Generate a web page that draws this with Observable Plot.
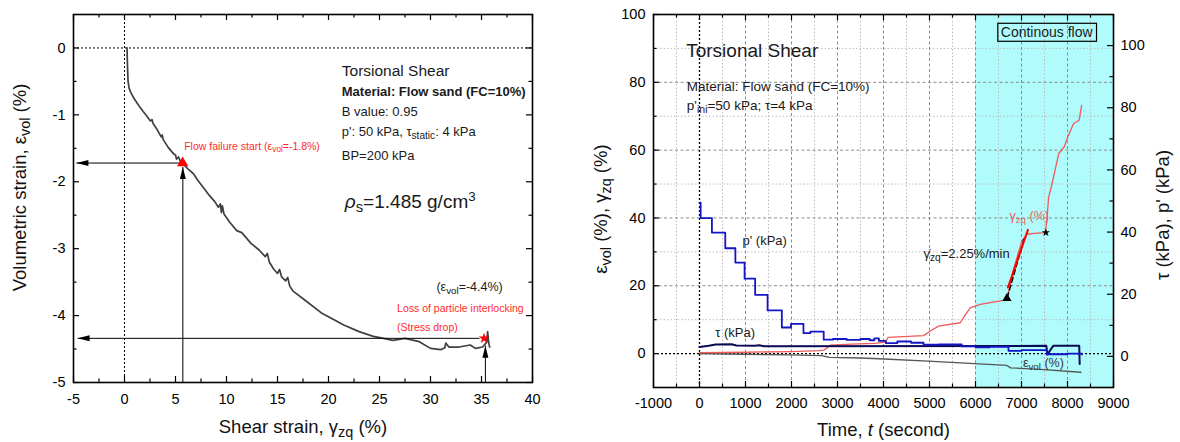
<!DOCTYPE html>
<html><head><meta charset="utf-8">
<script src="https://cdn.jsdelivr.net/npm/d3@7"></script>
<script src="https://cdn.jsdelivr.net/npm/@observablehq/plot@0.6"></script>
<style>
body{margin:0;background:#fff;}
#wrap{position:relative;width:1180px;height:442px;overflow:hidden;background:#fff;}
#left{position:absolute;left:0;top:0;}
#right{position:absolute;left:590px;top:0;}
</style></head>
<body><div id="wrap"><div id="left"></div><div id="right"></div></div>
<script>
const FONT = "'Liberation Sans', Arial, Helvetica, sans-serif";

// ---------------- LEFT PANEL DATA ----------------
const shearStrain = [0.25,0.27,0.3,0.35,0.45,0.6,0.95,1.4,1.83,2.2,2.54,2.7,2.8,3.2,3.6,3.7,3.8,4.3,4.8,5.0,5.1,5.3,5.5,5.8,6.3,6.76,7.2,7.8,8.3,8.87,9.2,9.4,9.5,9.6,9.75,10.3,11,11.5,12.4,13.2,13.8,14.0,14.2,14.6,15.0,15.2,15.4,15.8,16.0,16.2,16.5,17.7,19.4,21.5,23,24.4,25.4,26.3,27.5,28.9,30,31,31.4,31.5,31.8,32.8,33.9,34.4,35.1,35.5,35.6,35.7,35.8];
const volStrain = [0,-0.15,-0.3,-0.5,-0.6,-0.66,-0.76,-0.86,-0.95,-1.02,-1.09,-1.07,-1.13,-1.22,-1.33,-1.3,-1.37,-1.49,-1.58,-1.6,-1.66,-1.63,-1.7,-1.74,-1.82,-1.88,-1.98,-2.1,-2.2,-2.3,-2.38,-2.33,-2.46,-2.36,-2.48,-2.6,-2.73,-2.76,-2.92,-3.02,-3.12,-3.07,-3.2,-3.3,-3.37,-3.31,-3.42,-3.48,-3.43,-3.56,-3.63,-3.77,-3.97,-4.14,-4.24,-4.31,-4.34,-4.37,-4.34,-4.39,-4.49,-4.51,-4.48,-4.41,-4.47,-4.47,-4.44,-4.49,-4.47,-4.4,-4.24,-4.4,-4.47];
const flowFailure = {x: 5.7, y: -1.72};
const interlockLoss = {x: 35.25, y: -4.34};
const leftXTicks = [-5,0,5,10,15,20,25,30,35,40];
const leftXMinor = [-2.5,2.5,7.5,12.5,17.5,22.5,27.5,32.5,37.5];
const leftYTicks = [-5,-4,-3,-2,-1,0];
const leftYMinor = [-4.5,-3.5,-2.5,-1.5,-0.5];

// ---------------- RIGHT PANEL DATA ----------------
const timeP  = [0,25,270,560,780,980,1210,1480,1790,1990,2260,2410,2700,2900,3200,3500,3700,3800,3900,4050,4300,4600,4870,5200,5700,6000,6300,6717,7000,7552,8000,8313];
const pPrime = [49.5,44.5,39.8,34.8,30.2,25,19.8,14.8,9.3,10.5,7.5,8.0,5.4,5.6,5.3,5.6,5.2,5.8,5.0,4.3,4.8,4.4,3.8,3.9,3.2,2.9,3.1,1.8,2.0,0.7,0.9,0.6];
const timeTau = [0,200,350,700,800,1200,1300,1400,7540,7560,7690,8255,8265];
const tau     = [3.0,3.4,3.8,3.9,3.5,3.4,3.6,3.3,3.4,0.6,3.4,3.4,-2.4];
const timeGamma = [0,1000,2000,2600,2700,2850,3300,3800,4050,4100,4870,5000,5196,5667,5739,5884,6102,6319,6609,6683,6755,6826,6900,7009,7117,7335,7515,7552,7587,7649,7810,7930,8010,8131,8252,8308];
const gammaZq   = [0.3,0.4,0.6,0.9,1.0,2.5,2.8,3.0,3.4,4.8,5.3,6.5,8.1,9.1,10.6,13.5,14.5,15.0,15.7,16.2,20.4,24.9,28.3,33.2,35.2,35.5,35.7,39.1,45.9,49.2,59,61,64,67.8,68.8,73.2];
const timeEvol = [0,1000,2000,2660,2821,3500,4028,5074,5879,6683,6763,7487,8292];
const epsVol   = [0,-0.2,-0.4,-0.6,-1.1,-1.3,-1.6,-2.3,-2.9,-3.5,-4.2,-4.7,-5.5];
const flowStartTime = 6000;
const triangleMark = {t: 6683, v: 16.3};
const starMark = {t: 7530, v: 35.7};
const fitRed = [{t: 6705, v: 19.5}, {t: 7140, v: 36.5}];
const fitDashed = [{t: 6690, v: 16.5}, {t: 7060, v: 34.0}];
const timeTicks = [-1000,0,1000,2000,3000,4000,5000,6000,7000,8000,9000];
const timeMinor = [-500,500,1500,2500,3500,4500,5500,6500,7500,8500];
const leftAxisTicks = [0,20,40,60,80,100];
const leftAxisMinor = [10,30,50,70,90];
const rightAxisTicks = [0,20,40,60,80,100];
const rightAxisMinor = [10,30,50,70,90];
const LDOM = [-10, 100], RDOM = [-10, 110];
const toLeft = k => LDOM[0] + (k - RDOM[0]) * (LDOM[1] - LDOM[0]) / (RDOM[1] - RDOM[0]);
const fromLeft = v => RDOM[0] + (v - LDOM[0]) * (RDOM[1] - RDOM[0]) / (LDOM[1] - LDOM[0]);

// ---------------- helpers ----------------
const arrowUp = {draw(c){ c.moveTo(0,0); c.lineTo(3,12); c.lineTo(-3,12); c.closePath(); }};
const arrowLeft = {draw(c){ c.moveTo(0,0); c.lineTo(12,3); c.lineTo(12,-3); c.closePath(); }};

function frameTicksX(vals, len, ph, extra = {}) {
  return [
    Plot.ruleX(vals, {insetTop: ph - len, stroke: "#000", strokeWidth: 1.2, ...extra}),
    Plot.ruleX(vals, {insetBottom: ph - len, stroke: "#000", strokeWidth: 1.2, ...extra})
  ];
}
function tickYLeft(vals, len, pw) { return Plot.ruleY(vals, {insetRight: pw - len, stroke: "#000", strokeWidth: 1.2}); }
function tickYRight(vals, len, pw) { return Plot.ruleY(vals, {insetLeft: pw - len, stroke: "#000", strokeWidth: 1.2}); }

function note(d, opts) {
  return Plot.text([d], {x: "x", y: "y", text: "text", textAnchor: "start", fill: "#1a1a1a", ...opts});
}
function title(s, opts) {
  return Plot.text([s], {textAnchor: "middle", lineAnchor: "middle", fontSize: 18.5, fill: "#111", ...opts});
}

const SVGNS = "http://www.w3.org/2000/svg";
function rich(el) {
  const s = el.textContent;
  if (!/[_^*]\{/.test(s)) return;
  el.textContent = "";
  const re = /([_^*])\{([^}]*)\}/g;
  let last = 0, m;
  const add = (txt, type) => {
    const ts = document.createElementNS(SVGNS, "tspan");
    ts.textContent = txt;
    if (type === "_") { ts.setAttribute("baseline-shift", "-0.28em"); ts.style.fontSize = "78%"; }
    else if (type === "^") { ts.setAttribute("baseline-shift", "0.55em"); ts.style.fontSize = "70%"; }
    else if (type === "*") { ts.style.fontStyle = "italic"; }
    el.appendChild(ts);
  };
  while ((m = re.exec(s))) {
    if (m.index > last) add(s.slice(last, m.index));
    add(m[2], m[1]);
    last = re.lastIndex;
  }
  if (last < s.length) add(s.slice(last));
}
function richify(svg) {
  svg.querySelectorAll("text").forEach(t => {
    const spans = t.querySelectorAll("tspan");
    if (spans.length) spans.forEach(ts => { if (!ts.children.length) rich(ts); });
    else rich(t);
  });
}
function boxText(svg, content) {
  svg.querySelectorAll("text").forEach(t => {
    if (t.textContent !== content) return;
    const b = t.getBBox();
    const r = document.createElementNS(SVGNS, "rect");
    r.setAttribute("x", b.x - 3); r.setAttribute("y", b.y - 1);
    r.setAttribute("width", b.width + 6); r.setAttribute("height", b.height + 2);
    r.setAttribute("fill", "none"); r.setAttribute("stroke", "#000"); r.setAttribute("stroke-width", "1.2");
    if (t.getAttribute("transform")) r.setAttribute("transform", t.getAttribute("transform"));
    t.parentNode.insertBefore(r, t);
  });
}

// ---------------- LEFT PLOT ----------------
const W1 = 560, H = 442, mL1 = 73, mR1 = 28, mT = 14, mB1 = 60;
const pw1 = W1 - mL1 - mR1, ph1 = H - mT - mB1;
const curve = shearStrain.map((x, i) => ({x, y: volStrain[i]}));
const leftArrows = [
  {x1: flowFailure.x, y1: flowFailure.y, x2: -4.72, y2: flowFailure.y, dir: "left"},
  {x1: 5.72, y1: -5, x2: 5.72, y2: -1.78, dir: "up"},
  {x1: 34.8, y1: interlockLoss.y, x2: -4.6, y2: interlockLoss.y, dir: "left"},
  {x1: 35.38, y1: -5, x2: 35.38, y2: -4.45, dir: "up"}
];
const leftNotes = [
  {x: 21.3, y: -0.34, text: "Torsional Shear"},
  {x: 21.3, y: -0.66, text: "Material: Flow sand (FC=10%)"},
  {x: 21.3, y: -0.95, text: "B value: 0.95"},
  {x: 21.3, y: -1.25, text: "p': 50 kPa, τ_{static}: 4 kPa"},
  {x: 21.3, y: -1.61, text: "BP=200 kPa"},
  {x: 21.6, y: -2.30, text: "*{ρ}_{s}=1.485 g/cm^{3}"},
  {x: 5.85, y: -1.48, text: "Flow failure start (ε_{vol}=-1.8%)"},
  {x: 30.58, y: -3.58, text: "(ε_{vol}=-4.4%)"},
  {x: 26.72, y: -3.89, text: "Loss of particle interlocking"},
  {x: 26.72, y: -4.18, text: "(Stress drop)"}
];
const RED = "#ff2a2a";
const leftPlot = Plot.plot({
  width: W1, height: H,
  marginLeft: mL1, marginRight: mR1, marginTop: mT, marginBottom: mB1,
  x: {domain: [-5, 40], label: null},
  y: {domain: [-5, 0.5], label: null},
  style: {fontFamily: FONT, background: "#fff", overflow: "visible"},
  marks: [
    Plot.ruleX([0], {stroke: "#000", strokeDasharray: "2,2", strokeWidth: 1}),
    Plot.ruleY([0], {stroke: "#000", strokeDasharray: "2,2", strokeWidth: 1}),
    Plot.line(curve, {x: "x", y: "y", stroke: "#404040", strokeWidth: 1.7}),
    Plot.link(leftArrows, {x1: "x1", y1: "y1", x2: "x2", y2: "y2", stroke: "#000", strokeWidth: 1}),
    Plot.dot(leftArrows.filter(d => d.dir === "left"), {x: "x2", y: "y2", symbol: arrowLeft, fill: "#000", stroke: "none", r: 3}),
    Plot.dot(leftArrows.filter(d => d.dir === "up"), {x: "x2", y: "y2", symbol: arrowUp, fill: "#000", stroke: "none", r: 3}),
    Plot.dot([flowFailure], {x: "x", y: "y", symbol: "triangle", fill: "#ff0000", stroke: "none", r: 4.2}),
    Plot.dot([interlockLoss], {x: "x", y: "y", symbol: "star", fill: "#ff0000", stroke: "none", r: 3.4}),
    note(leftNotes[0], {fontSize: 15.5}),
    note(leftNotes[1], {fontSize: 13, fontWeight: "bold"}),
    note(leftNotes[2], {fontSize: 13}),
    note(leftNotes[3], {fontSize: 13}),
    note(leftNotes[4], {fontSize: 13}),
    note(leftNotes[5], {fontSize: 19}),
    note(leftNotes[6], {fontSize: 10.5, fill: RED}),
    note(leftNotes[7], {fontSize: 12.5}),
    note(leftNotes[8], {fontSize: 10.5, fill: RED}),
    note(leftNotes[9], {fontSize: 10.5, fill: RED}),
    ...frameTicksX(leftXTicks, 6, ph1),
    ...frameTicksX(leftXMinor, 3.5, ph1),
    tickYLeft(leftYTicks, 6, pw1), tickYRight(leftYTicks, 6, pw1),
    tickYLeft(leftYMinor, 3.5, pw1), tickYRight(leftYMinor, 3.5, pw1),
    Plot.frame({stroke: "#000", strokeWidth: 1.6}),
    Plot.axisX(leftXTicks, {anchor: "bottom", tickSize: 0, tickPadding: 11, fontSize: 14.5, tickFormat: d => String(d), label: null}),
    Plot.axisY(leftYTicks, {anchor: "left", tickSize: 0, tickPadding: 8, fontSize: 14.5, tickFormat: d => String(d), label: null}),
    title("Volumetric strain, ε_{vol} (%)", {frameAnchor: "left", rotate: -90, dx: -53, dy: -11}),
    title("Shear strain, γ_{zq} (%)", {frameAnchor: "bottom", dy: 45})
  ]
});

// ---------------- RIGHT PLOT ----------------
const W2 = 590, mL2 = 63, mR2 = 67, mB2 = 55;
const pw2 = W2 - mL2 - mR2, ph2 = H - mT - mB2;
const pSeries = timeP.map((t, i) => ({t, v: toLeft(pPrime[i])}));
const tauSeries = timeTau.map((t, i) => ({t, v: toLeft(tau[i])}));
const gSeries = timeGamma.map((t, i) => ({t, v: gammaZq[i]}));
const eSeries = timeEvol.map((t, i) => ({t, v: epsVol[i]}));
const rightNotes = [
  {x: -289, y: 89.2, text: "Torsional Shear"},
  {x: -275, y: 78.7, text: "Material: Flow sand (FC=10%)"},
  {x: -275, y: 73.1, text: "p'_{ini}=50 kPa; τ=4 kPa"},
  {x: 935, y: 33.2, text: "p' (kPa)"},
  {x: 341, y: 6.1, text: "τ (kPa)"},
  {x: 4870, y: 29.3, text: "γ\u0307_{zq}=2.25%/min"},
  {x: 6739, y: 40.6, text: "γ_{zq} (%)"},
  {x: 7030, y: -2.9, text: "ε_{vol} (%)"},
  {x: 7548, y: 94.6, text: "Continous flow"}
];
const rightPlot = Plot.plot({
  width: W2, height: H,
  marginLeft: mL2, marginRight: mR2, marginTop: mT, marginBottom: mB2,
  x: {domain: [-1000, 9000], label: null},
  y: {domain: LDOM, label: null},
  style: {fontFamily: FONT, background: "#fff", overflow: "visible"},
  marks: [
    Plot.rect([{t1: flowStartTime, t2: 9000, v1: LDOM[0], v2: LDOM[1]}], {x1: "t1", x2: "t2", y1: "v1", y2: "v2", fill: "#b0fbfb"}),
    Plot.ruleX(timeMinor, {stroke: "#bdbdbd", strokeDasharray: "1.5,2", strokeWidth: 1}),
    Plot.ruleY(leftAxisMinor, {stroke: "#bdbdbd", strokeDasharray: "1.5,2", strokeWidth: 1}),
    Plot.ruleX(timeTicks.filter(d => d > -1000 && d < 9000 && d !== 0), {stroke: "#8c8c8c", strokeDasharray: "3,2.5", strokeWidth: 1}),
    Plot.ruleY(leftAxisTicks.filter(d => d > 0 && d < 100), {stroke: "#8c8c8c", strokeDasharray: "3,2.5", strokeWidth: 1}),
    Plot.ruleX([0], {stroke: "#000", strokeDasharray: "2,2", strokeWidth: 1.3}),
    Plot.ruleY([0], {stroke: "#000", strokeDasharray: "2,2", strokeWidth: 1.3}),
    Plot.line(eSeries, {x: "t", y: "v", stroke: "#555", strokeWidth: 1.3}),
    Plot.line(gSeries, {x: "t", y: "v", stroke: "#f05a5a", strokeWidth: 1.3}),
    Plot.line(tauSeries, {x: "t", y: "v", stroke: "#0a0a55", strokeWidth: 2}),
    Plot.line(pSeries, {x: "t", y: "v", stroke: "#1515c8", strokeWidth: 1.8, curve: "step-after"}),
    Plot.line(fitDashed, {x: "t", y: "v", stroke: "#000", strokeWidth: 1.5, strokeDasharray: "5,3"}),
    Plot.line(fitRed, {x: "t", y: "v", stroke: "#ff0000", strokeWidth: 2}),
    Plot.dot([triangleMark], {x: "t", y: "v", symbol: "triangle", fill: "#000", stroke: "none", r: 3.4}),
    Plot.dot([starMark], {x: "t", y: "v", symbol: "star", fill: "#000", stroke: "none", r: 2.6}),
    note(rightNotes[0], {fontSize: 19}),
    note(rightNotes[1], {fontSize: 13.5}),
    note(rightNotes[2], {fontSize: 13.5}),
    note(rightNotes[3], {fontSize: 13}),
    note(rightNotes[4], {fontSize: 13}),
    note(rightNotes[5], {fontSize: 13}),
    note(rightNotes[6], {fontSize: 12.5, fill: "#f05a5a"}),
    note(rightNotes[7], {fontSize: 12.5, fill: "#333"}),
    note(rightNotes[8], {fontSize: 14, textAnchor: "middle"}),
    ...frameTicksX(timeTicks, 6, ph2),
    ...frameTicksX(timeMinor, 3.5, ph2),
    tickYLeft(leftAxisTicks, 6, pw2), tickYLeft(leftAxisMinor, 3.5, pw2),
    tickYRight(rightAxisTicks.map(toLeft), 6, pw2), tickYRight(rightAxisMinor.map(toLeft), 3.5, pw2),
    Plot.frame({stroke: "#000", strokeWidth: 1.6}),
    Plot.axisX(timeTicks, {anchor: "bottom", tickSize: 0, tickPadding: 10, fontSize: 14.5, tickFormat: d => String(d), label: null}),
    Plot.axisY(leftAxisTicks, {anchor: "left", tickSize: 0, tickPadding: 8, fontSize: 14.5, tickFormat: d => String(d), label: null}),
    Plot.axisY(rightAxisTicks.map(toLeft), {anchor: "right", tickSize: 0, tickPadding: 7, fontSize: 14.5, tickFormat: v => String(Math.round(fromLeft(v))), label: null}),
    title("ε_{vol} (%), γ_{zq} (%)", {frameAnchor: "left", rotate: -90, dx: -52, dy: 8}),
    title("τ (kPa), p' (kPa)", {frameAnchor: "right", rotate: -90, dx: 50, dy: 14}),
    title("Time, *{t} (second)", {frameAnchor: "bottom", dy: 43})
  ]
});

document.getElementById("left").appendChild(leftPlot);
document.getElementById("right").appendChild(rightPlot);
richify(leftPlot); richify(rightPlot);
boxText(rightPlot, "Continous flow");
</script>
</body></html>
